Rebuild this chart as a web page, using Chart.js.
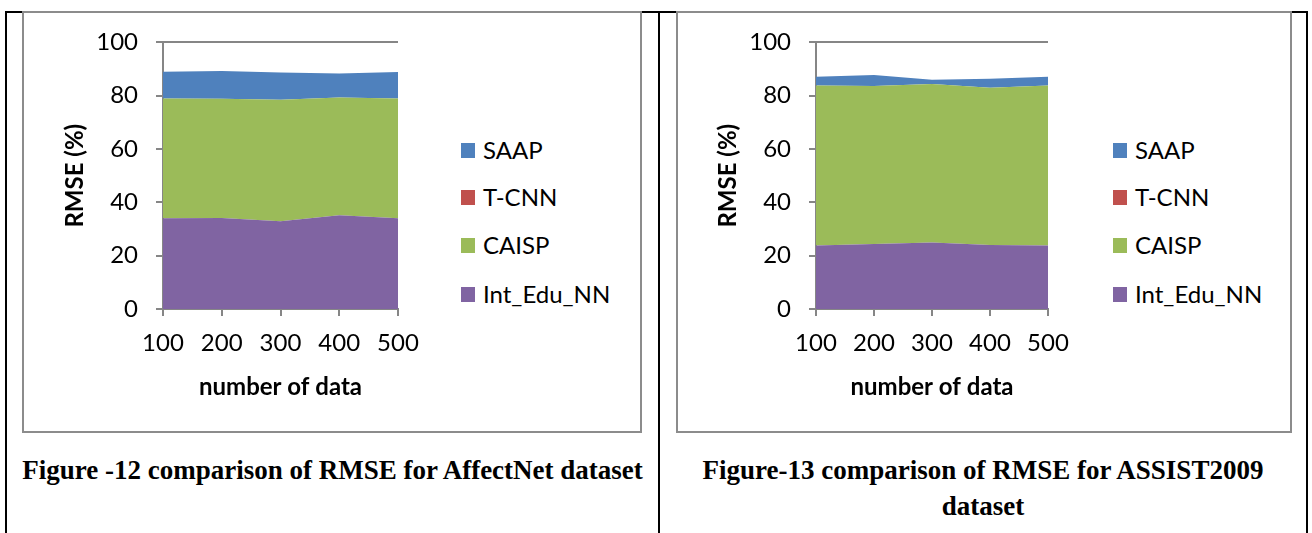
<!DOCTYPE html>
<html>
<head>
<meta charset="utf-8">
<script src="https://cdn.jsdelivr.net/npm/chart.js@4/dist/chart.umd.min.js"></script>
<style>
  html, body { margin: 0; padding: 0; background: #fff; }
  body { width: 1312px; height: 533px; position: relative; overflow: hidden; }
  .tline { position: absolute; background: #000; }
  .frame { position: absolute; border: 2px solid #8c8c8c; box-sizing: border-box; }
  canvas { position: absolute; }
  .caption { position: absolute; font-family: "Liberation Serif", "Times New Roman", serif; font-weight: bold; font-size: 27px; line-height: 36px; text-align: center; color: #000; white-space: nowrap; }
  .legend { position: absolute; font-family: Lato, "Open Sans", sans-serif; font-size: 24px; color: #000; }
  .legend .item { position: absolute; left: 0; height: 30px; white-space: nowrap; }
  .legend .sw { position: absolute; left: 0; top: 8px; width: 14px; height: 15px; }
  .legend .lb { position: absolute; left: 22px; top: 0; line-height: 30px; }
</style>
</head>
<body>
<!-- table borders -->
<div class="tline" style="left:5px; top:11px; width:1303px; height:2px;"></div>
<div class="tline" style="left:5px; top:11px; width:2px; height:530px;"></div>
<div class="tline" style="left:658px; top:11px; width:2px; height:530px;"></div>
<div class="tline" style="left:1306px; top:11px; width:2px; height:530px;"></div>
<!-- chart frames -->
<div class="frame" style="left:22px; top:11px; width:620px; height:422px;"></div>
<div class="frame" style="left:676px; top:11px; width:616px; height:422px;"></div>

<canvas id="c1" width="400" height="410" style="left:40px; top:10px;"></canvas>
<canvas id="c2" width="397" height="410" style="left:693px; top:10px;"></canvas>

<div class="legend" id="lg1" style="left:461px; top:0px;"></div>
<div class="legend" id="lg2" style="left:1113px; top:0px;"></div>

<div class="caption" id="cap1" style="left:7px; width:651px; top:452px;"></div>
<div class="caption" id="cap2" style="left:660px; width:646px; top:452px;"></div>

<script>
// ---- data ----
const categories = ["100", "200", "300", "400", "500"];
const seriesNames = ["Int_Edu_NN", "CAISP", "T-CNN", "SAAP"];   // stacking order, bottom to top
const seriesColors = ["#8064A2", "#9BBB59", "#C0504D", "#4F81BD"];

// Figure 12 - AffectNet
const affect_IntEduNN = [34.0, 34.1, 32.9, 35.2, 34.0];
const affect_CAISP    = [45.0, 44.8, 45.6, 44.1, 45.0];
const affect_TCNN     = [0, 0, 0, 0, 0];
const affect_SAAP     = [10.0, 10.4, 10.2, 9.0, 9.9];

// Figure 13 - ASSIST2009
const assist_IntEduNN = [23.8, 24.4, 24.9, 24.0, 23.8];
const assist_CAISP    = [60.0, 59.2, 59.5, 59.0, 60.0];
const assist_TCNN     = [0, 0, 0, 0, 0];
const assist_SAAP     = [3.3, 4.2, 1.6, 3.4, 3.3];

const yTicks = [0, 20, 40, 60, 80, 100];
const xTitle = "number of data";
const yTitle = "RMSE (%)";
const caption1 = "Figure -12 comparison of RMSE for AffectNet dataset";
const caption2 = ["Figure-13 comparison of RMSE for ASSIST2009", "dataset"];

// ---- drawing ----
const AX = "#868686";
const FONT = 'Lato, "Open Sans", sans-serif';

function makeChart(id, seriesData) {
  const datasets = seriesData.map((d, i) => ({
    label: seriesNames[i],
    data: d,
    backgroundColor: seriesColors[i],
    borderColor: seriesColors[i],
    borderWidth: 0,
    pointRadius: 0,
    pointHoverRadius: 0,
    tension: 0,
    fill: i === 0 ? "origin" : "-1"
  }));
  return new Chart(document.getElementById(id), {
    type: "line",
    data: { labels: categories, datasets },
    options: {
      responsive: false,
      animation: false,
      devicePixelRatio: 1,
      layout: { padding: { left: 0, top: 12, right: 42, bottom: 0 } },
      plugins: { legend: { display: false }, tooltip: { enabled: false } },
      scales: {
        x: {
          type: "category",
          offset: false,
          grid: { display: true, drawOnChartArea: false, drawTicks: true, tickLength: 7, color: AX, lineWidth: 2 },
          border: { display: true, color: AX, width: 2 },
          ticks: { color: "#000", font: { family: FONT, size: 24 }, padding: 13, maxRotation: 0, autoSkip: false },
          title: { display: true, text: xTitle, color: "#000", font: { family: FONT, size: 24, weight: "bold" }, padding: { top: 0, bottom: 18 } },
          afterFit: (s) => { s.height = 111; }
        },
        y: {
          stacked: true,
          min: yTicks[0],
          max: yTicks[yTicks.length - 1],
          afterBuildTicks: (s) => { s.ticks = yTicks.map(v => ({ value: v })); },
          grid: { display: true, drawOnChartArea: true, drawTicks: true, tickLength: 7, color: AX, lineWidth: 2 },
          border: { display: true, color: AX, width: 2 },
          ticks: { color: "#000", font: { family: FONT, size: 24 }, padding: 18 },
          title: { display: true, text: yTitle, color: "#000", font: { family: FONT, size: 24, weight: "bold" }, padding: { top: 21, bottom: 0 } },
          afterFit: (s) => { s.width = 123; }
        }
      }
    }
  });
}

function makeLegend(id) {
  const el = document.getElementById(id);
  const order = [3, 2, 1, 0];
  const centers = [150, 197, 245, 294];
  order.forEach((si, k) => {
    const it = document.createElement("div");
    it.className = "item";
    it.style.top = (centers[k] - 15) + "px";
    const sw = document.createElement("div");
    sw.className = "sw";
    sw.style.background = seriesColors[si];
    const lb = document.createElement("div");
    lb.className = "lb";
    lb.textContent = seriesNames[si];
    it.appendChild(sw); it.appendChild(lb);
    el.appendChild(it);
  });
}

document.getElementById("cap1").textContent = caption1;
document.getElementById("cap2").innerHTML = caption2.map(s => s.replace(/&/g, "&amp;").replace(/</g, "&lt;")).join("<br>");
makeLegend("lg1");
makeLegend("lg2");

function draw() {
  makeChart("c1", [affect_IntEduNN, affect_CAISP, affect_TCNN, affect_SAAP]);
  makeChart("c2", [assist_IntEduNN, assist_CAISP, assist_TCNN, assist_SAAP]);
}
const fontsReady = (document.fonts && document.fonts.load)
  ? Promise.all([document.fonts.load('24px Lato'), document.fonts.load('bold 24px Lato')]).catch(() => {})
  : Promise.resolve();
Promise.race([fontsReady, new Promise(r => setTimeout(r, 500))]).then(draw);
</script>
</body>
</html>
